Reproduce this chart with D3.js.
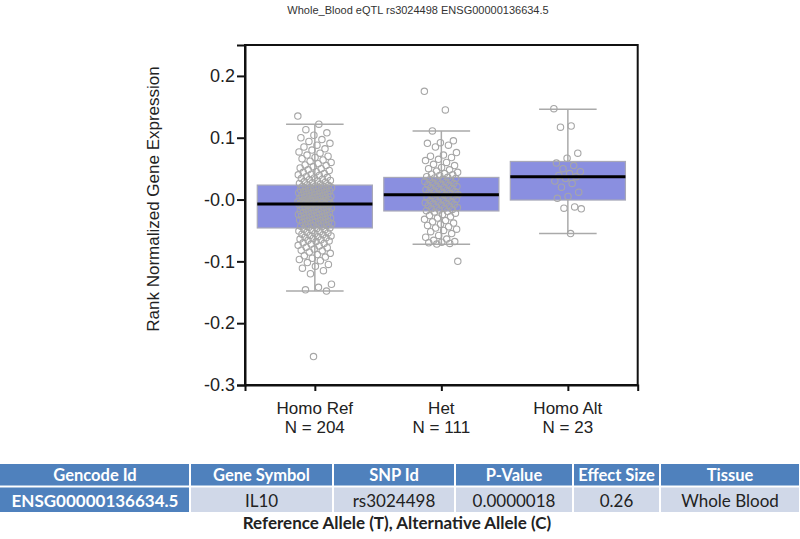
<!DOCTYPE html>
<html>
<head>
<meta charset="utf-8">
<script src="https://cdn.jsdelivr.net/npm/d3@7"></script>
<style>
  html, body { margin: 0; padding: 0; background: #fff; }
  svg { display: block; }
</style>
</head>
<body>
<script>
// ---------------- DATA ----------------
const titleText = "Whole_Blood eQTL rs3024498 ENSG00000136634.5";
const yLabel = "Rank Normalized Gene Expression";
const categories = ["Homo Ref", "Het", "Homo Alt"];
const counts = [204, 111, 23];
const yTickValues = [0.2, 0.1, 0.0, -0.1, -0.2, -0.3];
const yTickLabels = ["0.2", "0.1", "-0.0", "-0.1", "-0.2", "-0.3"];

const q1 = [-0.046, -0.0185, -0.0008];
const median = [-0.0073, 0.0078, 0.0368];
const q3 = [0.0234, 0.0358, 0.0616];
const whiskerLow = [-0.148, -0.0723, -0.055];
const whiskerHigh = [0.122, 0.111, 0.146];

const homoRefValues = [
  0.135,0.122,0.113,0.108,0.104,0.1,0.097,0.094,0.091,0.088,0.085,0.082,0.08,0.077,0.075,0.072,0.07,0.068,0.066,0.064,
  0.062,0.06,0.058,0.056,0.055,0.053,0.051,0.05,0.048,0.047,0.045,0.044,0.042,0.041,0.04,0.039,0.037,0.036,0.035,0.034,
  0.033,0.032,0.031,0.03,0.029,0.028,0.027,0.026,0.025,0.024,0.023,
  0.022,0.021,0.021,0.02,0.019,0.019,0.018,0.017,0.017,0.016,0.015,0.015,0.014,0.013,0.013,0.012,0.011,0.011,0.01,0.009,
  0.009,0.008,0.007,0.007,0.006,0.005,0.005,0.004,0.003,0.003,0.002,0.001,0.001,0,-0.001,-0.001,-0.002,-0.002,-0.003,-0.003,
  -0.004,-0.004,-0.005,-0.005,-0.005,-0.006,-0.006,-0.006,-0.007,-0.007,-0.007,
  -0.008,-0.009,-0.009,-0.01,-0.011,-0.012,-0.012,-0.013,-0.014,-0.015,-0.015,-0.016,-0.017,-0.018,-0.018,-0.019,-0.02,-0.021,-0.021,-0.022,
  -0.023,-0.024,-0.024,-0.025,-0.026,-0.027,-0.027,-0.028,-0.029,-0.03,-0.03,-0.031,-0.032,-0.033,-0.033,-0.034,-0.035,-0.036,-0.036,-0.037,
  -0.038,-0.039,-0.039,-0.04,-0.041,-0.042,-0.042,-0.043,-0.044,-0.045,-0.046,
  -0.047,-0.048,-0.049,-0.05,-0.051,-0.052,-0.053,-0.054,-0.055,-0.056,-0.057,-0.058,-0.059,-0.06,-0.061,-0.062,-0.063,-0.064,-0.065,-0.066,
  -0.067,-0.068,-0.07,-0.071,-0.072,-0.074,-0.075,-0.077,-0.078,-0.08,-0.082,-0.083,-0.085,-0.087,-0.089,-0.091,-0.093,-0.095,-0.097,-0.099,
  -0.102,-0.105,-0.108,-0.111,-0.115,-0.12,-0.137,-0.142,-0.146,-0.148,-0.254
];
const hetValues = [
  0.175,0.145,0.111,0.095,0.092,0.091,0.088,0.085,0.076,0.072,0.07,0.068,0.065,0.063,0.06,0.057,0.055,0.052,0.05,0.048,
  0.046,0.044,0.042,0.041,0.04,0.039,0.037,0.036,
  0.035,0.034,0.033,0.032,0.031,0.03,0.029,0.028,0.027,0.026,0.025,0.024,0.023,0.022,0.021,0.02,0.019,0.018,0.017,0.016,
  0.015,0.014,0.013,0.012,0.011,0.01,0.009,0.008,
  0.007,0.006,0.005,0.004,0.003,0.002,0.001,0,-0.001,-0.002,-0.003,-0.004,-0.005,-0.006,-0.007,-0.008,-0.009,-0.01,-0.011,-0.012,
  -0.013,-0.014,-0.015,-0.016,-0.017,-0.018,-0.019,
  -0.02,-0.022,-0.024,-0.026,-0.028,-0.03,-0.032,-0.034,-0.036,-0.038,-0.04,-0.042,-0.044,-0.046,-0.048,-0.05,-0.052,-0.055,-0.058,-0.061,
  -0.064,-0.066,-0.068,-0.069,-0.07,-0.071,-0.072,-0.1
];
const homoAltValues = [
  0.147,0.119,0.117,0.075,0.067,0.059,0.055,0.05,0.045,0.042,0.039,0.037,0.034,0.03,0.026,0.02,0.012,0.005,0.002,-0.012,
  -0.014,-0.015,-0.055
];
const groupValues = [homoRefValues, hetValues, homoAltValues];

const tableHeaders = ["Gencode Id", "Gene Symbol", "SNP Id", "P-Value", "Effect Size", "Tissue"];
const tableValues = ["ENSG00000136634.5", "IL10", "rs3024498", "0.0000018", "0.26", "Whole Blood"];
const footnote = "Reference Allele (T), Alternative Allele (C)";

// ---------------- LAYOUT ----------------
const W = 800, H = 539;
const plot = { left: 245, right: 637.7, top: 45, bottom: 385 };
const colEdges = [0, 190, 333, 455, 573, 660, 800];

const svg = d3.select("body").append("svg").attr("width", W).attr("height", H)
  .style("font-family", "'Liberation Sans', Arial, sans-serif");

const y = d3.scaleLinear().domain([-0.3, 0.25]).range([plot.bottom, plot.top]);
const x = d3.scalePoint().domain(categories).range([plot.left, plot.right]).padding(0.552);
const step = x.step();
const boxW = step * 0.91;
const capW = boxW / 2;

// title
svg.append("text").attr("x", 418).attr("y", 14).attr("text-anchor", "middle")
  .attr("font-size", 11).attr("fill", "#333").text(titleText);

// y label
svg.append("text").attr("transform", "translate(159,199) rotate(-90)")
  .attr("text-anchor", "middle").attr("font-size", 17).attr("fill", "#222").text(yLabel);

// frame
svg.append("rect").attr("x", plot.left).attr("y", plot.top)
  .attr("width", plot.right - plot.left).attr("height", plot.bottom - plot.top)
  .attr("fill", "none").attr("stroke", "#111").attr("stroke-width", 2);

// y axis
const yAxis = d3.axisLeft(y).tickValues(yTickValues)
  .tickFormat((d, i) => yTickLabels[i]).tickSize(8).tickSizeOuter(8);
const gy = svg.append("g").attr("transform", `translate(${plot.left},0)`).call(yAxis);
gy.selectAll("path, line").attr("stroke", "#111").attr("stroke-width", 2);
gy.selectAll("text").attr("font-size", 18).attr("fill", "#222")
  .attr("font-family", "'Liberation Sans', Arial, sans-serif").attr("x", -10);

// x axis
const xAxis = d3.axisBottom(x).tickSize(6).tickSizeOuter(6).tickFormat("");
const gx = svg.append("g").attr("transform", `translate(0,${plot.bottom})`).call(xAxis);
gx.selectAll("path, line").attr("stroke", "#111").attr("stroke-width", 2);

// category labels
const lab = svg.append("g").selectAll("text").data(categories).join("text")
  .attr("text-anchor", "middle").attr("font-size", 17).attr("fill", "#222");
lab.append("tspan").attr("x", d => x(d)).attr("y", 414).text(d => d);
lab.append("tspan").attr("x", d => x(d)).attr("y", 433).text((d, i) => "N = " + counts[i]);

// boxes
const boxes = svg.append("g").selectAll("g").data(categories).join("g");
boxes.append("line").attr("x1", d => x(d)).attr("x2", d => x(d))
  .attr("y1", (d, i) => y(whiskerHigh[i])).attr("y2", (d, i) => y(whiskerLow[i]))
  .attr("stroke", "#aaa").attr("stroke-width", 1.5);
boxes.append("line").attr("x1", d => x(d) - capW / 2).attr("x2", d => x(d) + capW / 2)
  .attr("y1", (d, i) => y(whiskerHigh[i])).attr("y2", (d, i) => y(whiskerHigh[i]))
  .attr("stroke", "#aaa").attr("stroke-width", 1.5);
boxes.append("line").attr("x1", d => x(d) - capW / 2).attr("x2", d => x(d) + capW / 2)
  .attr("y1", (d, i) => y(whiskerLow[i])).attr("y2", (d, i) => y(whiskerLow[i]))
  .attr("stroke", "#aaa").attr("stroke-width", 1.5);
boxes.append("rect").attr("x", d => x(d) - boxW / 2).attr("width", boxW)
  .attr("y", (d, i) => y(q3[i])).attr("height", (d, i) => y(q1[i]) - y(q3[i]))
  .attr("fill", "#8a8fe0").attr("stroke", "#a8a8b8").attr("stroke-width", 1.2);

// points (deterministic jitter)
const jitterW = [34, 34, 28];
categories.forEach((c, gi) => {
  svg.append("g").selectAll("circle").data(groupValues[gi]).join("circle")
    .attr("cx", (v, i) => x(c) + (((i * 0.6180339887) % 1) - 0.5) * jitterW[gi])
    .attr("cy", v => y(v)).attr("r", 3.2)
    .attr("fill", "none").attr("stroke", "#a6a6a6").attr("stroke-width", 1.1);
});

// medians
svg.append("g").selectAll("line").data(categories).join("line")
  .attr("x1", d => x(d) - boxW / 2).attr("x2", d => x(d) + boxW / 2)
  .attr("y1", (d, i) => y(median[i])).attr("y2", (d, i) => y(median[i]))
  .attr("stroke", "#000").attr("stroke-width", 3);

// ---------------- TABLE ----------------
const tFont = "Lato, 'Liberation Sans', sans-serif";
const hdrY = 464, hdrH = 21.5, rowY = 487.5, rowH = 24.5;
const tg = svg.append("g").attr("font-family", tFont);
tableHeaders.forEach((h, i) => {
  const x0 = colEdges[i], x1 = colEdges[i + 1];
  tg.append("rect").attr("x", x0 + (i ? 1 : 0)).attr("y", hdrY).attr("width", x1 - x0 - (i ? 2 : 1)).attr("height", hdrH)
    .attr("fill", "#4f81bd");
  tg.append("text").attr("x", (x0 + x1) / 2).attr("y", hdrY + 17).attr("text-anchor", "middle")
    .attr("font-size", 16.5).attr("font-weight", "bold").attr("fill", "#fff").text(h);
  tg.append("rect").attr("x", x0 + (i ? 1 : 0)).attr("y", rowY).attr("width", x1 - x0 - (i ? 2 : 1)).attr("height", rowH)
    .attr("fill", i === 0 ? "#4f81bd" : "#d0d8e8");
  tg.append("text").attr("x", (x0 + x1) / 2).attr("y", rowY + 19).attr("text-anchor", "middle")
    .attr("font-size", 17).attr("font-weight", i === 0 ? "bold" : "normal")
    .attr("fill", i === 0 ? "#fff" : "#222").text(tableValues[i]);
});
tg.append("text").attr("x", 397).attr("y", 529).attr("text-anchor", "middle")
  .attr("font-size", 17).attr("font-weight", "bold").attr("fill", "#222").text(footnote);
</script>
</body>
</html>
